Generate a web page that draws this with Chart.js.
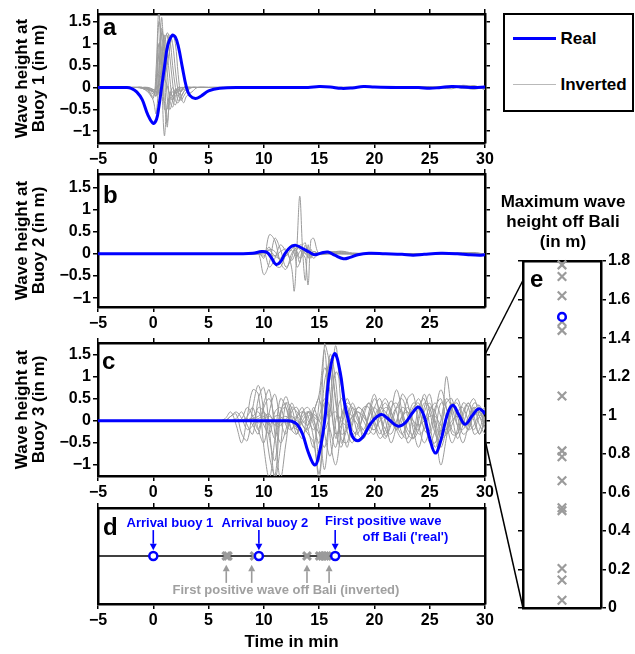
<!DOCTYPE html>
<html>
<head>
<meta charset="utf-8">
<script src="https://cdn.jsdelivr.net/npm/chart.js@4.4.1/dist/chart.umd.min.js"></script>
<style>
html, body { margin:0; padding:0; background:#fff; }
body { position:relative; width:635px; height:654px; overflow:hidden; font-family:'Liberation Sans', Arial, sans-serif; }
canvas { position:absolute; }
#legend { position:absolute; left:503px; top:13px; width:131px; height:99px; box-sizing:border-box; border:2.5px solid #000; background:#fff; }
#legend .sw { position:absolute; left:7.5px; width:43px; height:0; }
#legend .lb { position:absolute; left:55.5px; font-weight:bold; font-size:17px; line-height:20px; color:#000; white-space:nowrap; }
</style>
</head>
<body>
<canvas id="chartA" width="500" height="172" style="left:0;top:0"></canvas>
<canvas id="chartB" width="500" height="172" style="left:0;top:165px"></canvas>
<canvas id="chartC" width="500" height="170" style="left:0;top:334px"></canvas>
<canvas id="chartD" width="500" height="155" style="left:0;top:499px"></canvas>
<canvas id="chartE" width="155" height="430" style="left:480px;top:185px"></canvas>
<canvas id="overlay" width="635" height="654" style="left:0;top:0;pointer-events:none"></canvas>
<div id="legend"></div>
<script>
// ---------------- data ----------------
const seriesLabels = ['Real', 'Inverted'];
const timeTicks = [-5, 0, 5, 10, 15, 20, 25, 30];
const timeTicksB = [-5, 0, 5, 10, 15, 20, 25];
const heightTicks = [-1, -0.5, 0, 0.5, 1, 1.5];
const maxHeightTicks = [0, 0.2, 0.4, 0.6, 0.8, 1, 1.2, 1.4, 1.6, 1.8];

// Panel a : buoy 1
const tRealA = [-5,-3,-2.5,-2,-1.5,-1,-0.5,0,0.3,0.5,0.75,1,1.3,1.7,2,2.3,2.6,3,3.3,3.8,4.3,5,6,8,10,12,14,15,16,17,18,19,20,22,24,25,26,27,28,29,30];
const realA  = [0,0,0,-0.02,-0.1,-0.28,-0.62,-0.82,-0.72,-0.45,0,0.45,0.95,1.19,1.15,0.9,0.5,0,-0.18,-0.25,-0.2,-0.08,-0.02,0,0,0,0,0.02,0.01,-0.02,-0.01,0.02,0.01,0,0,-0.02,0,0.02,0.01,0,0.01];
const tInvA = [-5,-2,-1.5,-1,-0.5,0,0.25,0.5,0.75,1,1.25,1.5,1.75,2,2.25,2.5,2.75,3,3.5,4,5,10,20,25,27,28,29,30];
const invA = [
  [0,0,0,-0.02,-0.1,-0.25,0.4,1.75,0.3,-1.1,-0.4,-0.2,-0.1,-0.15,-0.05,-0.1,0,0,0,0,0,0,0,0,0.03,0,0.04,-0.05],
  [0,0,0,-0.02,-0.08,-0.2,0.1,1.5,1.2,-0.3,-0.8,-0.3,-0.2,-0.1,-0.2,-0.1,0,0,0,0,0,0,0,0,0,0.03,-0.02,0.02],
  [0,0,0,0,-0.05,-0.15,-0.1,0.8,1.35,0.9,-0.2,-0.5,-0.3,-0.1,0,-0.1,0,0,0,0,0,0,0,0.02,-0.03,0.05,0,-0.03],
  [0,0,0,0,-0.05,-0.1,-0.2,0.4,1.25,1.1,0.4,-0.3,-0.45,-0.2,-0.1,0,-0.05,0,0,0,0,0,0,0,0.02,0,-0.04,0.02],
  [0,0,0,0,-0.02,-0.08,-0.15,0.1,0.9,1.2,0.8,0.2,-0.3,-0.4,-0.2,-0.1,0,0,0,0,0,0,0,0,0,0.04,0.02,0],
  [0,0,0,0,-0.03,-0.1,-0.2,-0.05,0.6,1.15,1.2,0.7,0.1,-0.3,-0.35,-0.2,-0.1,0,0,0,0,0,0,0,0.03,-0.02,0.03,-0.05],
  [0,0,0,0,0,-0.05,-0.1,-0.1,0.3,0.9,1.25,1.1,0.5,0,-0.3,-0.25,-0.1,-0.05,0,0,0,0,0,0,0,0.02,0,0.03],
  [0,0,0,0,0,-0.05,-0.1,-0.15,0.1,0.6,1.0,1.2,1.0,0.4,-0.1,-0.3,-0.2,-0.1,0,0,0,0,0,0,0.02,0,-0.02,0.02],
  [0,0,0,-0.01,-0.05,-0.3,-0.6,0.2,1.6,0.5,-0.9,-0.2,0,-0.1,0,0,0,0,0,0,0,0,0,0,0,0,0.03,0],
  [0,0,0,0,-0.02,-0.1,-0.1,-0.1,0,0.2,0.5,0.9,1.2,1.0,0.3,-0.2,-0.35,-0.2,-0.1,0,0,0,0,0,0.02,0.03,0,0.02],
  [0,0,0,0,-0.02,-0.05,-0.05,0.1,0.3,0.2,0.05,-0.2,-0.3,-0.1,-0.05,0,0,0,0,0,0,0,0,0,0,0,0,0],
  [0,0,0,0,-0.03,-0.1,0.05,1.0,0.7,-0.5,-0.5,-0.1,-0.2,-0.05,-0.1,-0.05,0,0,0,0,0,0,0,0,0,0,0,0]
];

// Panel b : buoy 2
const tRealB = [-5,8,9,9.8,10.3,10.7,11.1,11.5,11.9,12.4,12.9,13.5,14.1,14.6,15.2,15.8,16.4,17.2,17.8,18.5,19.5,21,22.5,23.5,24.5,26,27.5,28.5,29.5,30];
const realB  = [0,0,0.01,0.05,0.03,-0.1,-0.24,-0.18,0,0.15,0.19,0.12,0.04,-0.02,0.02,0.04,-0.03,-0.11,-0.08,-0.02,0.01,0,-0.01,-0.03,-0.01,0.01,0,-0.02,-0.03,-0.02];
const tInvB = [-5,9,9.5,10,10.5,11,11.5,12,12.5,12.75,13,13.25,13.5,13.75,14,14.25,14.5,15,16,17,18,20,25,29,30];
const invB = [
  [0,0,0,0.02,0,-0.05,0.05,0.1,-0.3,-0.84,0.2,1.3,0.1,-0.6,0.2,-0.1,0.05,0,0,0,0,0,0,0,0],
  [0,0,0.05,-0.1,0.43,0.3,-0.2,-0.35,0,0.1,0.15,0.1,0,-0.1,-0.7,0.3,0.35,0,0.02,0.05,0,0,0,0.03,-0.02],
  [0,0,0.02,-0.47,-0.2,0.35,0.1,-0.3,-0.1,0.1,0,-0.2,0.1,0,0.1,0,-0.1,0,0.03,0.06,0.02,0,0,0,0],
  [0,0,0,0.05,-0.3,-0.1,0.2,0.05,-0.15,-0.05,0.1,0.2,0.2,0.25,-0.1,0.1,0,0,0.04,0.03,0,0,0,0,0],
  [0,0,0,0.03,0.08,-0.05,-0.1,0.05,0.08,0,-0.05,0.05,0.1,0,-0.05,0,0.05,0,0,0.02,0,0,0,0,0],
  [0,0,0,-0.05,0.1,0.05,-0.15,-0.05,0.1,0.15,0.05,-0.1,-0.05,0.2,0,-0.05,0,0,0.05,0,0,0,0,0.02,0],
  [0,0,0,0,0.15,-0.25,-0.3,0,0.2,0.1,-0.3,-0.2,0.1,0.05,0,0,0,0,0,0,0,0,0,0,0]
];

// Panel c : buoy 3
const tRealC = [-5,12,12.5,13,13.5,14,14.6,15,15.5,15.9,16.4,16.9,17.3,17.7,18,18.5,19,19.7,20.6,21.3,22.1,22.8,23.5,24,24.5,25,25.5,26,26.6,27.1,27.6,28.2,28.8,29.4,29.8,30];
const realC  = [0,0,-0.01,-0.08,-0.3,-0.7,-1.0,-0.75,0,1.0,1.52,1.1,0.4,-0.05,-0.35,-0.45,-0.35,-0.05,0.14,0.03,-0.12,-0.04,0.2,0.31,0.1,-0.4,-0.73,-0.45,0.15,0.35,0.15,-0.08,0.1,0.27,0.22,0.15];
const tInvC = [-5,6,6.5,7,7.5,8,8.5,9,9.5,10,10.5,11,11.5,12,12.5,13,13.5,14,14.5,15,15.5,16,16.5,17,17.5,18,18.5,19,19.5,20,20.5,21,21.5,22,22.5,23,23.5,24,24.5,25,25.5,26,26.5,27,27.5,28,28.5,29,29.5,30];
const invC = [
  [0, 0,0.05,0.2,-0.1,-0.5,0.1,0.7,0.6,-0.6,-1.3, -0.4,0.5,0.3,-0.2,0.1,0.3,-0.2,-0.6,0.4,1.2, 0.6,-0.4,0.1,0.35,-0.2,-0.3,0.2,0.4,0,-0.3, 0.1,0.45,0.2,-0.3,-0.4,0.2,0.5,0.1,-0.5,-0.2, 0.4,0.3,-0.2,-0.3,0.2,0.4,0,-0.3,0.1],
  [0, 0,0,0.1,0.15,-0.3,-0.45,0.3,0.8,0.2,-0.8, -1.25,0.1,0.55,0.1,-0.3,0.2,0.1,-0.4,-1.2,0.3, 1.5,0.9,-0.5,-0.2,0.3,0.1,-0.3,0.1,0.5,0.2, -0.35,-0.1,0.3,0.5,0.1,-0.4,-0.2,0.3,0.6,-0.1, -0.6,-0.2,0.3,0.4,0,-0.2,0.25,0.35,0],
  [0, 0,0,0,0.05,0.2,-0.1,-0.3,0.5,0.75,-0.2, -1.3,-0.6,0.4,0.3,-0.2,-0.4,0.2,0.1,-0.9,1.75, 1.2,-0.2,-0.6,0,0.4,0.1,-0.4,-0.1,0.3,0.5, 0,-0.5,-0.1,0.6,0.4,-0.2,-0.6,-0.1,0.3,0.2, -0.3,1.0,0.2,-0.4,-0.1,0.3,0.5,0.1,-0.2],
  [0, 0,0,0,0,0,0.02,0.05,-0.05,0.1,0.15, -0.1,0.05,0.1,0,-0.15,0.1,0.2,-0.1,-0.5,0.9, 1.3,0.4,-0.3,-0.2,0.1,0.2,0,-0.2,0.1,0.3, 0.2,0,-0.2,0.1,0.3,0,-0.3,-0.2,0.2,0.4, 0.1,-0.3,-0.1,0.2,0.3,0,-0.2,0.1,0.2],
  [0, 0,0,0,0,0,0.1,0.3,-0.2,-0.5,0.2, 0.6,0,-0.3,0.2,0.3,-0.1,-0.2,0.2,0.6,1.6, -0.4,-1.0,-0.2,0.5,0.2,-0.3,-0.4,0.2,0.6,0.1, -0.3,0.2,0.7,0.2,-0.5,-0.3,0.3,0.5,-0.1,-0.6, -0.2,0.4,0.5,-0.1,-0.5,-0.1,0.3,0.2,-0.1],
  [0, 0,0,0,0,0.05,0.3,0.1,-0.2,0.4,0.7, -0.3,-1.3,-0.5,0.3,0.2,0,-0.1,0.3,-0.2,-1.1, 0.4,1.7,0.3,-0.6,-0.1,0.3,0.2,-0.2,-0.3,0.2, 0.4,0.1,-0.2,0,0.5,0.6,-0.1,-0.5,-0.2,0.3, 0.5,0,-0.5,-0.2,0.4,0.3,-0.3,-0.2,0.3],
  [0, 0,0,0,0,0,0,0.1,0.2,-0.1,-0.3, 0.2,0.3,-0.1,-0.2,0.1,0.2,0,-0.2,0.1,0.5, 0.3,-0.3,-0.1,0.2,0.1,-0.1,-0.2,0.1,0.3,0.1, -0.2,-0.3,0,0.3,0.2,-0.1,-0.2,0.2,0.4,0, -0.4,-0.3,0.2,0.5,0.1,-0.2,-0.1,0.2,0.3],
  [0, 0,0,0,0,0,0,0,0.05,0.1,-0.1, 0.1,0.1,-0.05,0,0.1,-0.1,-0.3,-0.5,-1.3,0.2, 1.4,0.5,-0.4,-0.5,0,0.3,0.2,-0.1,-0.2,0.1, 0.3,0.2,-0.1,-0.3,0,0.3,0.4,0,-0.4,-0.5, 0,0.5,0.3,-0.1,-0.2,0.1,0.3,-0.1,-0.3],
  [0, 0,0,0,0,0,0,0.05,0.1,0.2,-0.05, -0.4,0.2,0.3,-0.2,-0.3,0.2,0.3,0,-0.3,-0.6, 0.2,1.1,0.8,-0.2,-0.5,-0.1,0.3,0.3,-0.1,-0.4, -0.2,0.3,0.4,0.1,-0.3,-0.4,0,0.4,0.3,-0.2, -1.0,-0.4,0.3,0.2,-0.1,0,0.4,0.3,-0.2],
  [0, 0,0,0.1,0.2,0.05,-0.2,-0.1,0.3,0.2,-0.4, -0.9,0.2,0.4,0,-0.2,0,0.2,0.1,0,0.4, -0.2,-0.6,0.1,0.4,0.3,0,-0.2,-0.3,0,0.3, 0.5,0.2,-0.2,-0.4,0,0.4,0.3,-0.2,-0.3,0.2, 0.7,0.3,-0.3,-0.3,0.1,0.4,0.1,-0.3,0],
  [0, 0,0,0,0,0,0,0,0,0.05,0.1, 0,-0.1,0.05,0.1,0,-0.05,0.1,0.15,0,-0.2, 0.1,0.2,0,-0.1,0.1,0.2,0.1,-0.1,-0.2,0, 0.1,0,-0.1,0.1,0.2,0,-0.1,0,0.1,0.1, -0.1,-0.2,0,0.1,0,-0.1,0.1,0.2,0],
  [0, 0,0,0,0,0,0.05,-0.1,-0.3,0.3,0.5, 0,-0.5,-0.2,0.4,0.1,-0.3,-0.1,0.2,0.5,-0.3, -0.8,0,0.5,0.2,-0.3,-0.2,0.1,0.4,0.2,-0.2, -0.4,0,0.3,0.2,-0.2,-0.3,0.1,0.6,0.2,-0.3, -0.5,0.1,0.4,0.1,-0.3,-0.2,0.2,0.1,-0.1]
];

// Panel d : arrival / first positive wave times (min)
const arrivalReal = [0, 9.55, 16.45];
const firstPosInverted = [6.6, 6.75, 9.15, 13.9, 15.05, 15.3, 15.5, 15.7];
const invertedArrowTimes = [6.6, 8.9, 13.9, 15.9];

// Panel e : maximum wave height off Bali (m)
const maxReal = [1.51];
const maxInverted = [1.78, 1.72, 1.62, 1.485, 1.44, 1.10, 0.815, 0.785, 0.66, 0.52, 0.505, 0.205, 0.145, 0.04];

// ---------------- styling / layout ----------------
const FONT = "'Liberation Sans', Arial, Helvetica, sans-serif";
const BLUE = '#0000ff', GREY = 'rgb(155,155,155)', GREY_TEXT = 'rgb(160,160,160)';
Chart.defaults.font.family = FONT;
Chart.defaults.font.weight = 'bold';
Chart.defaults.font.size = 16;
Chart.defaults.color = '#000';
Chart.defaults.animation = false;
Chart.defaults.events = [];
Chart.defaults.plugins.legend.display = false;
Chart.defaults.plugins.tooltip.enabled = false;

const fmt = v => { const r = Math.round(v * 100) / 100; return (r < 0 ? '\u2212' : '') + Math.abs(r); };

function scale(o) {
  return {
    type: 'linear', position: o.position, min: o.min, max: o.max,
    afterBuildTicks: s => { s.ticks = (o.ticks || []).map(v => ({value: v})); },
    afterFit: s => {
      if (s.isHorizontal()) s.height = o.size; else s.width = o.size;
      s.paddingLeft = s.paddingRight = s.paddingTop = s.paddingBottom = 0;
    },
    ticks: { display: !!o.labels, padding: 2, autoSkip: false, maxRotation: 0, minRotation: 0, color: '#000',
             font: {size: 16, weight: 'bold'}, callback: v => fmt(v) },
    grid: { drawOnChartArea: false, drawTicks: true, tickLength: 5, color: '#000', lineWidth: 1.5 },
    border: { display: true, color: '#000', width: 2.5 },
    title: o.title ? Object.assign({display: true, color: '#000'}, o.title) : {display: false}
  };
}

const letterOffsets = {a: [5, 21], b: [5, 29], c: [4, 26], d: [5, 27], e: [7, 26]};
function letterPlugin(letter) {
  return { id: 'panelLetter', afterDraw(chart) {
    const ctx = chart.ctx, a = chart.chartArea, o = letterOffsets[letter];
    ctx.save(); ctx.font = 'bold 24px ' + FONT; ctx.fillStyle = '#000'; ctx.textBaseline = 'alphabetic'; ctx.textAlign = 'left';
    ctx.fillText(letter, a.left + o[0], a.top + o[1]); ctx.restore();
  }};
}

const pts = (ts, vs) => ts.map((t, i) => ({x: t, y: vs[i]}));
function waveDatasets(tR, vR, tI, vI) {
  const ds = [{label: seriesLabels[0], data: pts(tR, vR), borderColor: BLUE, borderWidth: 3, pointRadius: 0, tension: 0.4, order: 0}];
  vI.forEach(v => ds.push({label: seriesLabels[1], data: pts(tI, v), borderColor: GREY, borderWidth: 1, pointRadius: 0, tension: 0.35, order: 1}));
  return ds;
}
const baseOpts = { responsive: false, animation: false, devicePixelRatio: 1, layout: {padding: 0, autoPadding: false} };

function waveChart(id, tR, vR, tI, vI, yMin, yMax, xTicks, topSize, bottomSize, buoy, letter) {
  return new Chart(document.getElementById(id), {
    type: 'line',
    data: { datasets: waveDatasets(tR, vR, tI, vI) },
    options: Object.assign({}, baseOpts, {
      scales: {
        x: scale({position: 'bottom', min: -5, max: 30, ticks: xTicks, labels: true, size: bottomSize}),
        x2: scale({position: 'top', min: -5, max: 30, ticks: timeTicks, size: topSize}),
        y: scale({position: 'left', min: yMin, max: yMax, ticks: heightTicks, labels: true, size: 98,
                  title: {text: ['Wave height at', 'Buoy ' + buoy + ' (in m)'], font: {size: 17, weight: 'bold', lineHeight: 1.05}, padding: {top: 13, bottom: 0}}}),
        y2: scale({position: 'right', min: yMin, max: yMax, ticks: heightTicks, size: 15})
      }
    }),
    plugins: [letterPlugin(letter)]
  });
}

const chartA = waveChart('chartA', tRealA, realA, tInvA, invA, -1.27, 1.68, timeTicks, 14, 29, 1, 'a');
const chartB = waveChart('chartB', tRealB, realB, tInvB, invB, -1.2, 1.8, timeTicksB, 9, 30, 2, 'b');
const chartC = waveChart('chartC', tRealC, realC, tInvC, invC, -1.25, 1.76, timeTicks, 9, 28, 3, 'c');

// Panel d
const dNotes = {
  blueArrow: [0.77, 0.56], greyArrow: [0.22, 0.41],
  texts: [
    {text: 'Arrival buoy 1', x: 1.5, y: 0.84, color: BLUE},
    {text: 'Arrival buoy 2', x: 10.1, y: 0.84, color: BLUE},
    {text: 'First positive wave', x: 20.8, y: 0.855, color: BLUE},
    {text: "off Bali ('real')", x: 22.8, y: 0.69, color: BLUE},
    {text: 'First positive wave off Bali (inverted)', x: 12.0, y: 0.145, color: GREY_TEXT}
  ]
};
function arrow(ctx, x, y1, y2, color) {
  const dir = Math.sign(y2 - y1), hl = 6.5, hw = 3.5;
  ctx.strokeStyle = color; ctx.fillStyle = color; ctx.lineWidth = 1.6;
  ctx.beginPath(); ctx.moveTo(x, y1); ctx.lineTo(x, y2 - dir * hl); ctx.stroke();
  ctx.beginPath(); ctx.moveTo(x, y2); ctx.lineTo(x - hw, y2 - dir * hl); ctx.lineTo(x + hw, y2 - dir * hl); ctx.closePath(); ctx.fill();
}
const dAnnotations = { id: 'dAnnotations', afterDatasetsDraw(chart) {
  const ctx = chart.ctx, xs = chart.scales.x, ys = chart.scales.y;
  ctx.save();
  arrivalReal.forEach(t => arrow(ctx, xs.getPixelForValue(t), ys.getPixelForValue(dNotes.blueArrow[0]), ys.getPixelForValue(dNotes.blueArrow[1]), BLUE));
  invertedArrowTimes.forEach(t => arrow(ctx, xs.getPixelForValue(t), ys.getPixelForValue(dNotes.greyArrow[0]), ys.getPixelForValue(dNotes.greyArrow[1]), GREY));
  ctx.font = 'bold 13px ' + FONT; ctx.textAlign = 'center'; ctx.textBaseline = 'middle';
  dNotes.texts.forEach(n => { ctx.fillStyle = n.color; ctx.fillText(n.text, xs.getPixelForValue(n.x), ys.getPixelForValue(n.y)); });
  ctx.restore();
}};
const chartD = new Chart(document.getElementById('chartD'), {
  type: 'line',
  data: { datasets: [
    {label: seriesLabels[0], data: arrivalReal.map(t => ({x: t, y: 0.5})), showLine: false, pointStyle: 'circle', pointRadius: 4,
     pointBorderWidth: 2.5, pointBorderColor: BLUE, pointBackgroundColor: '#fff', borderColor: BLUE, backgroundColor: '#fff', clip: false},
    {label: seriesLabels[1], data: firstPosInverted.map(t => ({x: t, y: 0.5})), showLine: false, pointStyle: 'crossRot', pointRadius: 5.5,
     pointBorderWidth: 3, pointBorderColor: GREY, borderColor: GREY, clip: false},
    {label: 'time axis', data: [{x: -5, y: 0.5}, {x: 30, y: 0.5}], borderColor: '#000', borderWidth: 1.5, pointRadius: 0}
  ]},
  options: Object.assign({}, baseOpts, {
    scales: {
      x: scale({position: 'bottom', min: -5, max: 30, ticks: timeTicks, labels: true, size: 50,
                title: {text: 'Time in min', font: {size: 17, weight: 'bold', lineHeight: 1.2}, padding: {top: 0, bottom: 1}}}),
      x2: scale({position: 'top', min: -5, max: 30, ticks: timeTicks, size: 9}),
      y: scale({position: 'left', min: 0, max: 1, ticks: [], size: 98}),
      y2: scale({position: 'right', min: 0, max: 1, ticks: [], size: 15})
    }
  }),
  plugins: [letterPlugin('d'), dAnnotations]
});

// Panel e
const eTitleLines = ['Maximum wave', 'height off Bali', '(in m)'];
const eTitle = { id: 'eTitle', afterDraw(chart) {
  const ctx = chart.ctx, a = chart.chartArea;
  ctx.save(); ctx.font = 'bold 17px ' + FONT; ctx.fillStyle = '#000'; ctx.textAlign = 'center'; ctx.textBaseline = 'middle';
  eTitleLines.forEach((l, i) => ctx.fillText(l, (a.left + a.right) / 2 + 1, a.top - 59 + i * 20));
  ctx.restore();
}};
const chartE = new Chart(document.getElementById('chartE'), {
  type: 'line',
  data: { datasets: [
    {label: seriesLabels[0], data: maxReal.map(v => ({x: 0.5, y: v})), showLine: false, pointStyle: 'circle', pointRadius: 3.8,
     pointBorderWidth: 2.5, pointBorderColor: BLUE, pointBackgroundColor: '#fff', borderColor: BLUE, clip: false},
    {label: seriesLabels[1], data: maxInverted.map(v => ({x: 0.5, y: v})), showLine: false, pointStyle: 'crossRot', pointRadius: 6,
     pointBorderWidth: 2.2, pointBorderColor: GREY, borderColor: GREY, clip: false}
  ]},
  options: Object.assign({}, baseOpts, {
    scales: {
      x: scale({position: 'bottom', min: 0, max: 1, ticks: [], size: 7}),
      x2: scale({position: 'top', min: 0, max: 1, ticks: [], size: 76}),
      y: scale({position: 'left', min: 0, max: 1.8, ticks: maxHeightTicks, size: 43}),
      y2: scale({position: 'right', min: 0, max: 1.8, ticks: maxHeightTicks, labels: true, size: 34})
    }
  }),
  plugins: [letterPlugin('e'), eTitle]
});

// connectors from panel c to panel e
const connectFromC = [1.5, -0.43];
const connectToE = [1.7, 0];
(function drawConnectors() {
  const ctx = document.getElementById('overlay').getContext('2d');
  const oc = chartC.canvas, oe = chartE.canvas;
  ctx.strokeStyle = '#000'; ctx.lineWidth = 1.5;
  connectFromC.forEach((v, i) => {
    const x1 = oc.offsetLeft + chartC.chartArea.right, y1 = oc.offsetTop + chartC.scales.y.getPixelForValue(v);
    const x2 = oe.offsetLeft + chartE.chartArea.left, y2 = oe.offsetTop + chartE.scales.y.getPixelForValue(connectToE[i]);
    ctx.beginPath(); ctx.moveTo(x1, y1); ctx.lineTo(x2, y2); ctx.stroke();
  });
})();

// legend
(function buildLegend() {
  const lg = document.getElementById('legend');
  const items = [{label: seriesLabels[0], color: BLUE, w: 3, y: 23.8}, {label: seriesLabels[1], color: 'rgb(185,185,185)', w: 1.5, y: 69.5}];
  items.forEach(it => {
    const sw = document.createElement('div'); sw.className = 'sw';
    sw.style.top = (it.y - it.w / 2) + 'px'; sw.style.borderTop = it.w + 'px solid ' + it.color; lg.appendChild(sw);
    const lb = document.createElement('div'); lb.className = 'lb'; lb.textContent = it.label;
    lb.style.top = (it.y - 9.5) + 'px'; lg.appendChild(lb);
  });
})();
</script>
</body>
</html>
